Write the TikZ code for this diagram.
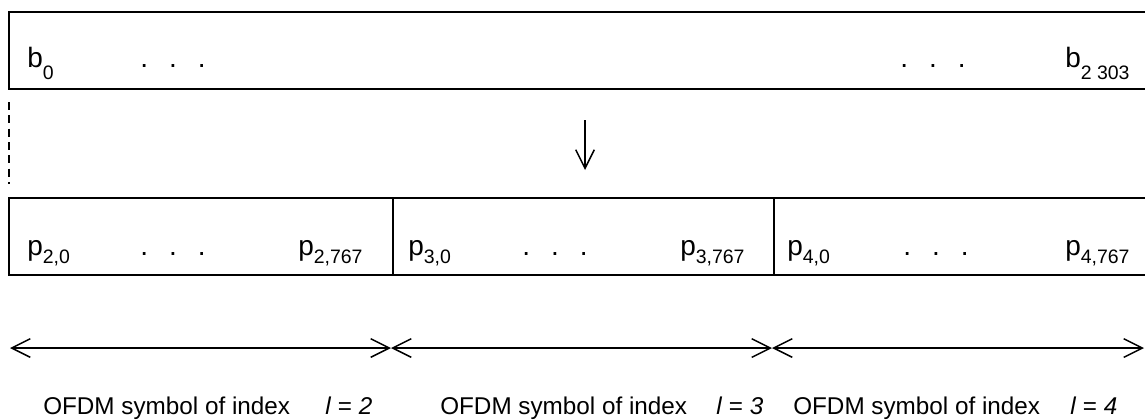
\documentclass[tikz,border=0pt]{standalone}
\usepackage{fontspec}
\setmainfont{Liberation Sans}
\usetikzlibrary{arrows.meta}

\newcommand\threedots{.\hskip0.75em.\hskip0.75em.}
\newcommand\bsub[1]{\raisebox{-9pt}{\fontsize{14.6}{16}\selectfont#1}}
\newcommand\psub[1]{\raisebox{-6.5pt}{\fontsize{14.6}{16}\selectfont#1}}

\begin{document}
\begin{tikzpicture}[
  x=0.75pt, y=-0.75pt,
  every node/.style={inner sep=0pt, anchor=base west, font=\fontsize{21}{24}\selectfont},
  frame/.style={draw, line width=1.5pt},
  span/.style={draw, line width=1.1pt, {Straight Barb[length=14pt,width=14pt]}-{Straight Barb[length=14pt,width=14pt]}},
  down/.style={draw, line width=1.1pt, -{Straight Barb[length=14pt,width=14pt]}},
  idx/.style={font=\fontsize{18.2}{21}\selectfont}
]
\useasboundingbox (0,0) rectangle (1145,419);
\clip (0,0) rectangle (1145,419);

% bit sequence
\draw[frame] (9,12) rectangle (1170,89);
\node (b0) at (27,67) {b\bsub{0}};
\node (bdotsa) at (140,67) {\threedots};
\node (bdotsb) at (900,67) {\threedots};
\node (blast) at (1065,67) {b\bsub{2 303}};

% mapping
\coordinate (dashtop) at (9,102);
\coordinate (dashbot) at (9,184);
\draw[line width=0.8pt, dash pattern=on 6pt off 4pt] (dashtop) -- (dashbot);
\coordinate (maptop) at (585,120);
\coordinate (mapbot) at (585,170);
\draw[down] (maptop) -- (mapbot);

% OFDM symbols
\draw[frame] (9,198) rectangle (1170,275);
\draw[frame] (393,198) -- (393,275);
\draw[frame] (774,198) -- (774,275);
\node (p20) at (27,255) {p\psub{2,0}};
\node (pdotsa) at (140,255) {\threedots};
\node (p2end) at (298,255) {p\psub{2,767}};
\node (p30) at (408,255) {p\psub{3,0}};
\node (pdotsb) at (522,255) {\threedots};
\node (p3end) at (680,255) {p\psub{3,767}};
\node (p40) at (787,255) {p\psub{4,0}};
\node (pdotsc) at (903,255) {\threedots};
\node (p4end) at (1065,255) {p\psub{4,767}};

% symbol spans
\coordinate (sa) at (10,348);
\coordinate (sb) at (391,348);
\coordinate (sc) at (772,348);
\coordinate (sd) at (1144,348);
\draw[span] (sa) -- (sb);
\draw[span] (sb) -- (sc);
\draw[span] (sc) -- (sd);
\node[idx] (idxa) at (43,414) {OFDM symbol of index};
\node[idx] (la) at (325,414) {\textit{l} = \textit{2}};
\node[idx] (idxb) at (440,414) {OFDM symbol of index};
\node[idx] (lb) at (716,414) {\textit{l} = \textit{3}};
\node[idx] (idxc) at (793,414) {OFDM symbol of index};
\node[idx] (lc) at (1070,414) {\textit{l} = \textit{4}};
\end{tikzpicture}
\end{document}
